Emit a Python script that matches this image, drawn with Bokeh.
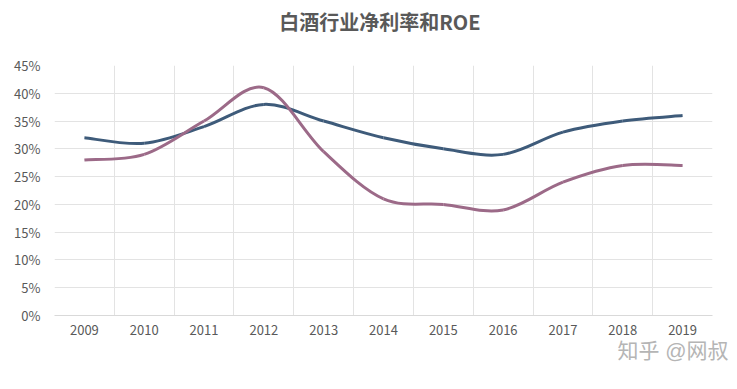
from bokeh.plotting import figure
from bokeh.models import (FixedTicker, NumeralTickFormatter, Legend, LegendItem, LinearAxis, Range1d)
from bokeh.embed import file_html
from bokeh.resources import INLINE

years = ["2009", "2010", "2011", "2012", "2013", "2014", "2015", "2016", "2017", "2018", "2019"]
net_margin = [0.32, 0.31, 0.34, 0.38, 0.35, 0.32, 0.30, 0.29, 0.33, 0.35, 0.36]
roe = [0.28, 0.29, 0.35, 0.41, 0.295, 0.21, 0.20, 0.19, 0.24, 0.27, 0.27]
y_ticks = [0, 0.05, 0.10, 0.15, 0.20, 0.25, 0.30, 0.35, 0.40, 0.45]
title_text = "白酒行业净利率和ROE"
watermark_text = "知乎 @网叔"

FONT = "Noto Sans CJK SC"
COMPACT_FONT = "Liberation Sans, Noto Sans CJK SC"
GREY = "#595959"

def bezier_segments(ys):
    xs = list(range(len(ys)))
    n = len(ys)
    d = dict(x0=[], y0=[], x1=[], y1=[], cx0=[], cy0=[], cx1=[], cy1=[])
    t = 1.0 / 6.0
    for i in range(n - 1):
        p0 = (xs[max(i - 1, 0)], ys[max(i - 1, 0)])
        p1 = (xs[i], ys[i])
        p2 = (xs[i + 1], ys[i + 1])
        p3 = (xs[min(i + 2, n - 1)], ys[min(i + 2, n - 1)])
        d["x0"].append(p1[0]); d["y0"].append(p1[1])
        d["x1"].append(p2[0]); d["y1"].append(p2[1])
        d["cx0"].append(p1[0] + (p2[0] - p0[0]) * t)
        d["cy0"].append(p1[1] + (p2[1] - p0[1]) * t)
        d["cx1"].append(p2[0] - (p3[0] - p1[0]) * t)
        d["cy1"].append(p2[1] - (p3[1] - p1[1]) * t)
    return d

p = figure(frame_width=658, frame_height=250, output_backend="svg", toolbar_location=None,
           x_range=Range1d(-0.5, len(years) - 0.5), y_range=Range1d(0, 0.45),
           min_border_left=54, min_border_right=25, min_border_top=65, min_border_bottom=0)

p.outline_line_color = None
p.background_fill_color = "white"

xax = p.xaxis[0]
yax = p.yaxis[0]
xax.ticker = FixedTicker(ticks=list(range(len(years))))
xax.major_label_overrides = {i: y for i, y in enumerate(years)}
yax.ticker = FixedTicker(ticks=y_ticks)
yax.formatter = NumeralTickFormatter(format="0%")
for ax in (xax, yax):
    ax.major_tick_line_color = None
    ax.minor_tick_line_color = None
    ax.major_label_text_font = FONT
    ax.major_label_text_font_size = "13px"
    ax.major_label_text_color = GREY
yax.axis_line_color = None
xax.axis_line_color = "#d9d9d9"
yax.major_label_standoff = 8
xax.major_label_standoff = 3

p.ygrid.ticker = FixedTicker(ticks=y_ticks)
p.ygrid.grid_line_color = "#e3e3e3"
p.xgrid.ticker = FixedTicker(ticks=[i - 0.5 for i in range(len(years) + 1)])
p.xgrid.grid_line_color = "#e3e3e3"

b1 = bezier_segments(net_margin)
b2 = bezier_segments(roe)
r1 = p.bezier(source=b1, x0="x0", y0="y0", x1="x1", y1="y1", cx0="cx0", cy0="cy0",
              cx1="cx1", cy1="cy1", line_color="#3e5b7a", line_width=3)
r2 = p.bezier(source=b2, x0="x0", y0="y0", x1="x1", y1="y1", cx0="cx0", cy0="cy0",
              cx1="cx1", cy1="cy1", line_color="#9c6a88", line_width=3)

# chart title (drawn as the only label of a bare axis above the frame)
tpos = 4.94
title_axis = LinearAxis(ticker=FixedTicker(ticks=[tpos]), major_label_overrides={tpos: title_text},
                        axis_line_color=None, major_tick_line_color=None,
                        minor_tick_line_color=None, major_label_standoff=24,
                        major_label_text_font=FONT, major_label_text_font_size="20px",
                        major_label_text_font_style="bold", major_label_text_color=GREY)
p.add_layout(title_axis, "above")

# watermark
wpos = 9.84
wm_axis = LinearAxis(ticker=FixedTicker(ticks=[wpos]), major_label_overrides={wpos: watermark_text},
                     axis_line_color=None, major_tick_line_color=None,
                     minor_tick_line_color=None, major_label_standoff=-5,
                     major_label_text_font=COMPACT_FONT, major_label_text_font_size="21px",
                     major_label_text_color="#b5b5b5")
p.add_layout(wm_axis, "below")

legend = Legend(items=[LegendItem(label="净利率", renderers=[r1]),
                       LegendItem(label="ROE", renderers=[r2])],
                orientation="horizontal", location="center",
                label_text_font=COMPACT_FONT, label_text_font_size="13px", label_text_color=GREY,
                border_line_color=None, background_fill_alpha=0,
                glyph_width=30, glyph_height=14, label_height=14,
                label_standoff=4, spacing=6, margin=0, padding=0)
p.add_layout(legend, "below")

open("out.html", "w").write(file_html(p, INLINE))
